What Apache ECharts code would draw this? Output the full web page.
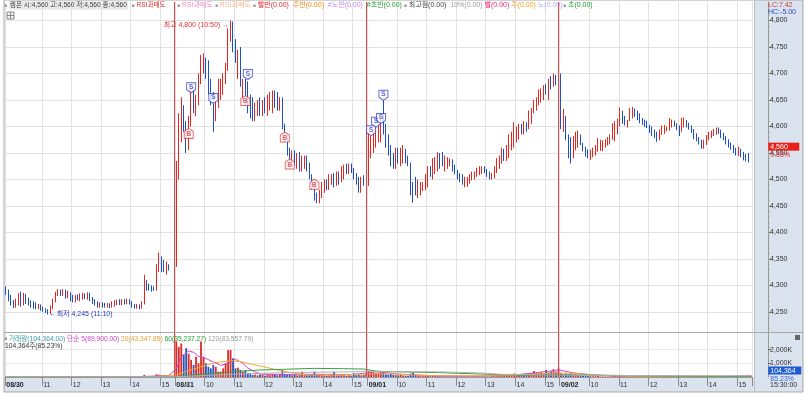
<!DOCTYPE html>
<html><head><meta charset="utf-8">
<script src="https://cdn.jsdelivr.net/npm/echarts@6/dist/echarts.min.js"></script>
<style>html,body{margin:0;padding:0;background:#fff}#c{width:807px;height:396px}</style>
</head><body><div id="c"></div>
<script>
// ---------- categories ----------
const days = ['08/30', '08/31', '09/01', '09/02'];
const firstSlot = [9, 0, 0, 0]; // first visible 5-min slot of each day (slot 0 = 09:00)
// ---------- price ticks ----------
const priceTicks = [4250, 4300, 4350, 4400, 4450, 4500, 4550, 4600, 4650, 4700, 4750, 4800];
const volTicks = [1000, 2000];
// ---------- candles [open, close, low, high] ----------
const day1 = [
[4295,4285,4282,4298],[4290,4273,4270,4292],[4280,4265,4262,4282],[4270,4260,4257,4272],[4260,4272,4258,4275],
[4265,4282,4262,4285],[4286,4265,4260,4288],[4265,4283,4262,4286],[4282,4268,4265,4284],[4275,4265,4262,4277],
[4270,4262,4258,4272],[4268,4260,4256,4270],[4265,4258,4255,4268],[4257,4262,4255,4265],[4262,4255,4252,4264],
[4258,4252,4250,4260],[4255,4250,4248,4257],[4252,4248,4245,4255],[4248,4260,4246,4262],[4258,4272,4255,4275],
[4270,4285,4268,4288],[4282,4290,4280,4293],[4290,4283,4280,4292],[4282,4290,4280,4293],[4290,4278,4275,4292],
[4278,4286,4276,4290],[4285,4272,4270,4287],[4280,4270,4268,4282],[4270,4280,4268,4282],[4280,4275,4272,4283],
[4272,4282,4270,4285],[4275,4283,4273,4286],[4283,4277,4274,4285],[4275,4284,4273,4287],[4284,4273,4270,4286],
[4275,4268,4265,4278],[4272,4265,4262,4274],[4268,4262,4258,4270],[4260,4266,4258,4268],[4266,4260,4258,4268],
[4265,4261,4258,4267],[4260,4265,4258,4267],[4265,4259,4257,4266],[4260,4268,4258,4270],[4262,4270,4260,4272],
[4265,4270,4263,4273],[4272,4266,4263,4274],[4265,4272,4263,4274],[4272,4267,4264,4274],[4266,4272,4264,4275],
[4272,4266,4264,4274],[4268,4260,4258,4270],[4263,4258,4256,4265],[4258,4262,4256,4265],[4262,4257,4255,4264],
[4258,4268,4256,4270],[4266,4305,4264,4320],[4305,4295,4290,4310],[4300,4292,4290,4303],[4298,4291,4288,4300],
[4296,4292,4290,4298],[4292,4335,4290,4340],[4330,4355,4325,4362],[4350,4330,4325,4355],[4345,4328,4325,4348],
[4325,4340,4320,4345],[4338,4332,4328,4340],[4330,4330,4330,4330],[4330,4330,4330,4330]
];
const day2 = [
[4340,4525,4335,4535],[4505,4590,4500,4625],[4590,4630,4570,4655],[4630,4600,4590,4640],[4600,4560,4550,4610],
[4560,4610,4555,4620],[4610,4670,4600,4680],[4665,4635,4625,4675],[4635,4655,4620,4660],[4650,4695,4640,4700],
[4690,4725,4680,4735],[4715,4730,4700,4738],[4725,4695,4690,4730],[4700,4665,4660,4725],[4670,4650,4640,4690],
[4660,4620,4590,4665],[4620,4645,4610,4650],[4640,4655,4635,4690],[4655,4675,4650,4690],[4670,4690,4660,4700],
[4690,4715,4680,4720],[4715,4775,4705,4785],[4770,4795,4760,4800],[4795,4750,4740,4798],[4760,4730,4720,4765],
[4700,4735,4690,4745],[4745,4685,4675,4750],[4660,4685,4650,4690],[4685,4650,4640,4690],[4680,4630,4625,4685],
[4640,4625,4615,4660],[4650,4615,4610,4655],[4615,4640,4610,4645],[4625,4645,4620,4650],[4645,4625,4620,4655],
[4625,4645,4620,4650],[4650,4630,4625,4655],[4630,4655,4620,4660],[4640,4660,4630,4665],[4640,4665,4625,4668],
[4665,4640,4635,4668],[4660,4635,4630,4665],[4635,4650,4630,4655],[4650,4600,4595,4655],[4600,4575,4570,4605],
[4575,4550,4545,4585],[4555,4530,4525,4560],[4530,4550,4525,4555],[4550,4530,4525,4555],[4525,4545,4520,4550],
[4545,4520,4515,4552],[4520,4540,4515,4545],[4525,4538,4520,4545],[4540,4520,4515,4545],[4530,4505,4500,4532],
[4505,4485,4480,4510],[4490,4465,4460,4495],[4470,4460,4455,4475],[4458,4475,4455,4480],[4470,4490,4465,4495],
[4480,4495,4475,4500],[4495,4485,4480,4500],[4485,4505,4480,4510],[4495,4505,4490,4510],[4510,4490,4485,4512],
[4490,4510,4488,4515],[4510,4495,4490,4515],[4500,4520,4495,4525],[4505,4525,4500,4528],[4525,4515,4510,4530],
[4515,4525,4510,4530],[4528,4515,4512,4530],[4518,4505,4500,4522],[4510,4495,4490,4512],[4500,4480,4475,4505],
[4480,4500,4475,4505],[4505,4490,4488,4508],[4490,4490,4490,4490]
];
const day3 = [
[4490,4550,4488,4590],[4550,4578,4540,4582],[4555,4584,4550,4590],[4565,4598,4560,4603],[4575,4605,4570,4612],
[4580,4612,4570,4615],[4620,4590,4585,4650],[4600,4565,4560,4605],[4580,4550,4545,4585],[4560,4530,4525,4565],
[4545,4525,4520,4550],[4525,4555,4520,4560],[4555,4535,4530,4560],[4530,4555,4525,4560],[4535,4555,4530,4565],
[4555,4535,4530,4558],[4540,4530,4525,4545],[4530,4475,4470,4532],[4490,4465,4456,4495],[4500,4475,4470,4505],
[4470,4495,4465,4500],[4475,4490,4470,4495],[4480,4490,4478,4495],[4485,4505,4480,4510],[4490,4520,4485,4525],
[4520,4510,4505,4525],[4505,4535,4500,4540],[4515,4540,4510,4542],[4520,4545,4515,4552],[4545,4525,4520,4550],
[4540,4530,4525,4552],[4520,4540,4515,4545],[4525,4538,4520,4542],[4528,4535,4525,4540],[4535,4520,4515,4538],
[4525,4512,4510,4528],[4515,4502,4500,4518],[4510,4500,4495,4512],[4505,4495,4490,4510],[4490,4500,4485,4505],
[4490,4502,4486,4505],[4495,4506,4492,4510],[4500,4510,4498,4515],[4505,4512,4500,4515],[4508,4518,4505,4522],
[4510,4520,4508,4525],[4512,4522,4510,4525],[4520,4515,4512,4525],[4518,4508,4505,4520],[4512,4503,4500,4515],
[4503,4510,4500,4512],[4505,4520,4502,4525],[4515,4535,4512,4540],[4525,4540,4520,4545],[4535,4555,4530,4560],
[4555,4540,4535,4558],[4540,4560,4535,4565],[4545,4580,4540,4585],[4560,4585,4555,4590],[4565,4590,4560,4608],
[4575,4595,4570,4600],[4580,4600,4575,4605],[4600,4590,4585,4605],[4590,4605,4585,4610],[4605,4595,4590,4608],
[4600,4625,4595,4630],[4610,4630,4605,4635],[4630,4645,4625,4650],[4635,4650,4630,4655],[4645,4665,4640,4670],
[4650,4668,4645,4672],[4655,4675,4650,4678],[4675,4665,4660,4680],[4670,4685,4650,4690],[4692,4678,4670,4695],
[4678,4695,4675,4700],[4695,4680,4678,4697],[4680,4680,4680,4680]
];
const day4 = [
[4690,4605,4595,4700],[4595,4628,4590,4633],[4618,4578,4574,4620],[4582,4545,4540,4585],[4578,4533,4530,4580],
[4545,4576,4540,4582],[4560,4583,4555,4590],[4565,4585,4560,4592],[4582,4567,4565,4585],[4567,4555,4553,4569],
[4560,4545,4543,4562],[4555,4542,4540,4557],[4540,4553,4537,4556],[4545,4558,4542,4560],[4548,4562,4545,4565],
[4554,4567,4552,4578],[4557,4570,4554,4575],[4556,4572,4553,4574],[4562,4574,4560,4576],[4566,4578,4564,4580],
[4568,4582,4566,4585],[4578,4603,4575,4606],[4575,4590,4572,4610],[4590,4610,4585,4615],[4603,4631,4600,4636],
[4628,4608,4605,4630],[4618,4604,4602,4620],[4600,4610,4598,4612],[4612,4630,4610,4635],[4618,4634,4615,4637],
[4632,4620,4618,4634],[4628,4615,4612,4630],[4622,4608,4606,4625],[4614,4605,4603,4616],[4612,4601,4599,4613],
[4610,4598,4597,4611],[4601,4590,4588,4603],[4598,4585,4582,4600],[4592,4580,4578,4594],[4588,4573,4571,4590],
[4576,4592,4574,4594],[4586,4600,4584,4602],[4588,4601,4586,4603],[4593,4599,4591,4600],[4594,4610,4592,4616],
[4600,4611,4598,4613],[4609,4602,4600,4611],[4604,4594,4593,4606],[4600,4589,4582,4602],[4592,4610,4590,4616],
[4600,4612,4598,4617],[4610,4600,4598,4612],[4605,4596,4594,4607],[4600,4590,4588,4602],[4593,4578,4576,4595],
[4585,4574,4572,4587],[4578,4568,4566,4580],[4573,4562,4558,4575],[4560,4573,4558,4575],[4567,4582,4565,4584],
[4576,4588,4574,4590],[4580,4590,4578,4592],[4584,4593,4582,4595],[4586,4596,4584,4598],[4596,4588,4586,4598],
[4592,4580,4578,4594],[4586,4576,4574,4588],[4580,4568,4566,4582],[4574,4562,4560,4576],[4568,4558,4556,4570],
[4562,4552,4550,4565],[4558,4548,4545,4560],[4546,4558,4544,4562],[4556,4545,4542,4558],[4550,4540,4536,4552],
[4545,4538,4534,4548],[4548,4535,4532,4550],[4560,4560,4560,4560]
];
// ---------- volume (thousand shares) ----------
const vol1 = [30,25,20,22,18,25,30,20,18,15, 15,12,14,10,12,15,18,25,35,40, 30,20,15,18,12,15,12,10,14,12,
15,12,10,12,10,8,10,12,8,10, 8,10,8,12,10,8,10,8,10,12, 8,10,8,10,12,40,150,80,50,45, 30,200,170,110,90,140,50,30,60];
const vol2 = [2600,2200,2450,1600,2100,1700,1250,880,1480,1000, 2600,1480,1000,750,630,880,750,390,390,630,
1000,1970,1970,1360,630,680,510,390,510,270, 270,150,180,120,200,150,100,180,130,200,
150,120,160,510,200,150,180,130,150,120, 140,390,150,120,160,180,390,200,150,140,
120,100,130,150,390,120,110,140,130,100, 120,100,270,130,150,120,140,300];
const vol3 = [450,400,330,270,300,390,420,200,180,220, 150,130,120,150,110,100,90,250,315,150,
120,80,60,70,90,60,80,70,90,60, 50,60,50,40,50,45,50,40,60,40, 35,40,45,35,40,50,40,35,45,40,
50,80,120,100,150,120,130,200,180,260, 150,140,150,180,150,220,260,440,300,270, 350,300,510,340,400,560,390,630];
const vol4 = [280,200,250,220,260,180,200,150,120,100, 90,80,60,50,60,70,50,40,45,40,
50,80,60,70,90,60,50,40,60,50, 40,35,40,30,35,30,40,35,30,40, 35,30,25,30,40,30,25,30,35,40,
30,35,30,40,35,30,25,30,35,30, 25,30,25,30,35,30,40,35,45,40, 50,45,60,50,70,60,80,104.364];
// ---------- volume moving averages [slot index, thousand shares] ----------
const ma5 = [[0,25],[30,20],[55,25],[60,70],[66,120],[69,600],[71,1500],[74,1900],[76,1800],[78,1500],[81,1350],[84,1100],[87,850],[90,1000],[93,1300],[96,1000],[98,650],[101,350],[104,200],[110,180],[120,200],[130,190],[140,180],[147,300],[150,380],[153,350],[158,220],[165,160],[175,80],[190,60],[205,120],[214,300],[220,420],[224,520],[226,450],[230,300],[238,150],[250,60],[270,40],[290,50],[302,90]];
const ma20 = [[0,25],[60,30],[69,150],[73,400],[79,750],[85,1050],[91,1190],[95,1120],[100,920],[106,680],[112,440],[117,270],[121,150],[135,150],[147,220],[155,230],[165,150],[175,90],[200,80],[210,150],[222,300],[230,280],[240,120],[255,50],[280,40],[302,43]];
const ma60 = [[0,25],[69,30],[79,190],[92,390],[103,510],[112,560],[125,630],[135,610],[145,580],[150,430],[155,390],[175,320],[190,230],[210,130],[225,160],[250,110],[275,60],[302,35]];
const ma120 = [[0,20],[69,25],[92,200],[115,330],[147,390],[175,380],[192,300],[200,200],[215,150],[240,120],[270,95],[302,84]];
// ---------- trade signals [slot index, price] ----------
const sellSignals = [[75,4673],[84,4653],[98,4698],[148,4592],[150,4608],[152,4615],[153,4659]];
const buySignals = [[74,4587],[97,4649],[113,4580],[115,4529],[125,4491]];

// ---------- build ----------
const candles = day1.concat(day2, day3, day4);
const volumes = vol1.concat(vol2, vol3, vol4);
const categories = [], major = [], isDayStart = [], dayLastIdx = [];
days.forEach((d, di) => {
  for (let k = firstSlot[di]; k < 78; k++) {
    const mins = k < 77 ? 9 * 60 + 5 * k : 15 * 60 + 30;
    const hh = Math.floor(mins / 60), mm = mins % 60;
    const start = k === firstSlot[di];
    categories.push(d + ' ' + String(hh).padStart(2, '0') + ':' + String(mm).padStart(2, '0'));
    isDayStart.push(start);
    major.push(start || (mm === 0 && k - firstSlot[di] >= 6));
  }
  dayLastIdx.push(categories.length - 1);
});
const UP = '#e3261f', DOWN = '#1d4fc4';
function isUp(i) {
  const c = candles[i];
  if (c[1] !== c[0]) return c[1] > c[0];
  return i > 0 ? c[1] >= candles[i - 1][1] : true;
}
const fmt = v => String(v).replace(/\B(?=(\d{3})+(?!\d))/g, ',');
const minorTicks = [];
for (let v = 4220; v <= 4830; v += 10) minorTicks.push(v);

const FONT = '"Liberation Sans","Noto Sans CJK KR",sans-serif';
const T = (x, y, text, fill, size) => ({type: 'text', x, y, z: 30, silent: true,
  style: {text, fill, font: (size || 7) + 'px ' + FONT, verticalAlign: 'middle'}});
const R = (x, y, text, fs) => ({type: 'text', x, y, z: 30, silent: true,
  style: {text, fill: '#444', font: fs + 'px ' + FONT, verticalAlign: 'middle', rich: makeRich(fs)}});
function makeRich(fs) {
  const rs = (fill, extra) => Object.assign({fill, fontSize: fs, fontFamily: FONT}, extra || {});
  return {
    q: rs('#9a9a9a', {fontSize: 5}), k: rs('#444'), kb: rs('#444', {backgroundColor: '#e9e9e9', padding: [1, 1]}),
    r: rs('#e02a2a'), p: rs('#f08cc8'), o: rs('#f4b48a'), or: rs('#f08a10'), v: rs('#c08af0'),
    g: rs('#24a030'), gr: rs('#9a9a9a'), m: rs('#f0207a'), y: rs('#f0a020'), v2: rs('#b8a8f0'),
    t: rs('#3d9da8'), mg: rs('#d443c8'), oo: rs('#e8a030')
  };
}
const intervalFn = (i) => major[i];

const PANEL = '#dae3ee';
const option = {
  animation: false,
  backgroundColor: '#fff',
  textStyle: {fontFamily: FONT},
  grid: [
    {left: 5, width: 747, top: 2, height: 330},
    {left: 5, width: 747, top: 333, height: 44}
  ],
  xAxis: [
    {type: 'category', gridIndex: 0, data: categories, boundaryGap: true,
      axisLine: {show: false}, axisTick: {show: false}, axisLabel: {show: false},
      splitLine: {show: true, interval: intervalFn, lineStyle: {color: '#e2e2e2', width: 1}}},
    {type: 'category', gridIndex: 1, data: categories, boundaryGap: true,
      axisLine: {show: true, lineStyle: {color: '#9a9a9a'}},
      axisTick: {show: true, interval: intervalFn, length: 9, lineStyle: {color: '#8a8a8a'}},
      axisLabel: {show: true, interval: intervalFn, align: 'left', margin: 5, fontSize: 7, color: '#333',
        formatter: (v, i) => {
          if (isDayStart[i]) return '{d|' + v.slice(0, 5) + '}';
          return '{h|' + String(parseInt(v.slice(6, 8), 10)) + '}';
        },
        rich: {d: {fontWeight: 'bold', color: '#222', fontSize: 7, fontFamily: FONT},
               h: {color: '#333', fontSize: 7, fontFamily: FONT}}},
      splitLine: {show: true, interval: intervalFn, lineStyle: {color: '#e2e2e2', width: 1}}}
  ],
  yAxis: [
    {type: 'value', gridIndex: 0, position: 'right', offset: 16, min: 4212, max: 4835,
      axisLine: {show: true, lineStyle: {color: '#9a9a9a'}},
      axisTick: {show: true, customValues: priceTicks, length: 3, lineStyle: {color: '#666'}},
      axisLabel: {show: true, customValues: priceTicks, margin: 2, fontSize: 7, color: '#333', formatter: v => fmt(v)},
      splitLine: {show: true, lineStyle: {color: '#e2e2e2', width: 1}}},
    {type: 'value', gridIndex: 0, position: 'right', offset: 16, min: 4212, max: 4835,
      axisLine: {show: false},
      axisTick: {show: true, customValues: minorTicks, length: 1.5, lineStyle: {color: '#999'}},
      axisLabel: {show: false}, splitLine: {show: false}},
    {type: 'value', gridIndex: 1, position: 'right', offset: 16, min: 0, max: 3212,
      axisLine: {show: true, lineStyle: {color: '#9a9a9a'}},
      axisTick: {show: true, customValues: volTicks, length: 3, lineStyle: {color: '#666'}},
      axisLabel: {show: true, customValues: volTicks, margin: 2, fontSize: 7, color: '#333', formatter: v => fmt(v) + 'K'},
      splitLine: {show: true, lineStyle: {color: '#e8e8e8', width: 1}}}
  ],
  series: [
    {type: 'candlestick', xAxisIndex: 0, yAxisIndex: 0, data: candles, barWidth: 1, z: 3,
      itemStyle: {color: UP, color0: DOWN, borderColor: UP, borderColor0: DOWN, borderColorDoji: null, borderWidth: 1},
      markLine: {silent: true, symbol: 'none', animation: false, label: {show: false},
        lineStyle: {color: '#d84a4a', width: 1, type: 'solid'},
        data: [{xAxis: dayLastIdx[0]}, {xAxis: dayLastIdx[1]}, {xAxis: dayLastIdx[2]}]},
      markPoint: {silent: true, animation: false, symbol: 'circle', symbolSize: 1, itemStyle: {color: 'rgba(0,0,0,0)'},
        data: [
          {coord: [91, 4792], label: {show: true, position: 'left', distance: 1, formatter: '최고 4,800 (10:50) →', color: '#e03030', fontSize: 7}},
          {coord: [17, 4246], label: {show: true, position: 'right', distance: 1, formatter: '←최저 4,245 (11:10)', color: '#2535c0', fontSize: 7}},
          {coord: [candles.length - 1, 4560], label: {show: true, position: 'right', distance: 17, offset: [0, 3],
            formatter: '{a|4,560}\n{b|0.55%}',
            rich: {a: {backgroundColor: '#e8201c', color: '#fff', fontSize: 7, width: 27, padding: [1, 2, 0, 2], lineHeight: 8},
                   b: {color: '#e03030', fontSize: 7, lineHeight: 8, padding: [0, 2]}}}}
        ]}},
    {type: 'scatter', xAxisIndex: 0, yAxisIndex: 0, data: sellSignals, z: 6,
      symbol: 'path://M0,0H10V7L5,10L0,7Z', symbolSize: [9, 10],
      itemStyle: {color: '#fff', borderColor: '#3a44c8', borderWidth: 1},
      label: {show: true, position: 'inside', formatter: 'S', color: '#3a44c8', fontSize: 7, fontWeight: 'bold', offset: [0, -1]}},
    {type: 'scatter', xAxisIndex: 0, yAxisIndex: 0, data: buySignals, z: 6,
      symbol: 'path://M5,0L10,3V10H0V3Z', symbolSize: [9, 10],
      itemStyle: {color: '#fff', borderColor: '#e04040', borderWidth: 1},
      label: {show: true, position: 'inside', formatter: 'B', color: '#e04040', fontSize: 7, fontWeight: 'bold', offset: [0, 1]}},
    {type: 'bar', xAxisIndex: 1, yAxisIndex: 2, data: volumes, barWidth: 1.8, z: 3,
      itemStyle: {color: p => isUp(p.dataIndex) ? '#dc2a26' : '#2452c2'},
      markLine: {silent: true, symbol: 'none', animation: false, label: {show: false},
        lineStyle: {color: '#d84a4a', width: 1, type: 'solid'},
        data: [{xAxis: dayLastIdx[0]}, {xAxis: dayLastIdx[1]}, {xAxis: dayLastIdx[2]}]},
      markPoint: {silent: true, animation: false, symbol: 'circle', symbolSize: 1, itemStyle: {color: 'rgba(0,0,0,0)'},
        data: [{coord: [candles.length - 1, 104.364], label: {show: true, position: 'right', distance: 17, offset: [0, -1],
          formatter: '{a|104,364}\n{b|85.23%}',
          rich: {a: {backgroundColor: '#1f5bd0', color: '#fff', fontSize: 7, width: 29, padding: [1, 2, 0, 2], lineHeight: 8},
                 b: {color: '#3a66d8', fontSize: 7, lineHeight: 8, padding: [0, 2]}}}}]}},
    {type: 'line', xAxisIndex: 1, yAxisIndex: 2, data: ma5, symbol: 'none', z: 4, lineStyle: {color: '#d443c8', width: 1}},
    {type: 'line', xAxisIndex: 1, yAxisIndex: 2, data: ma20, symbol: 'none', z: 4, lineStyle: {color: '#f0a838', width: 1}},
    {type: 'line', xAxisIndex: 1, yAxisIndex: 2, data: ma60, symbol: 'none', z: 4, lineStyle: {color: '#3aa040', width: 1}},
    {type: 'line', xAxisIndex: 1, yAxisIndex: 2, data: ma120, symbol: 'none', z: 4, lineStyle: {color: '#b0b0b0', width: 1}}
  ],
  graphic: [
    {type: 'rect', z: -5, silent: true, shape: {x: 754, y: 0, width: 49, height: 392}, style: {fill: PANEL}},
    {type: 'rect', z: -5, silent: true, shape: {x: 4, y: 378, width: 799, height: 14}, style: {fill: PANEL}},
    {type: 'rect', z: 25, silent: true, shape: {x: 4, y: 0, width: 799, height: 392}, style: {fill: 'none', stroke: '#a8a8a8', lineWidth: 1}},
    {type: 'line', z: 25, silent: true, shape: {x1: 4, y1: 332.5, x2: 803, y2: 332.5}, style: {stroke: '#a8a8a8', lineWidth: 1}},
    {type: 'line', z: 25, silent: true, shape: {x1: 754.5, y1: 0, x2: 754.5, y2: 392}, style: {stroke: '#b8c2ce', lineWidth: 1}},
    // top legend
    R(4, 5.5, '{q|■} {kb|켐온 시:4,560 고:4,560 저:4,560 종:4,560}  {q|■} {r|RSI과매도}', 6.6),
    R(177, 5.5, '{q|■} {p|RSI과매도} {q|■} {o|RSI과매도} {q|■} {r|빨반(0.00)}  {or|주반(0.00)}  {v|#노반(0.00)}  {g|#초반(0.00)} {q|■} {k|최고점(0.00)}  {gr|10%(0.00)} {m|빨(0.00)} {y|주(0.00)} {v2|노(0.00)}', 7),
    R(563, 5.5, '{q|■} {g|초(0.00)}', 7),
    {type: 'rect', z: 28, silent: true, shape: {x: 7, y: 12, width: 7, height: 7}, style: {fill: '#f4f4f4', stroke: '#888', lineWidth: 1}},
    {type: 'line', z: 29, silent: true, shape: {x1: 7, y1: 15.5, x2: 14, y2: 15.5}, style: {stroke: '#888', lineWidth: 1}},
    {type: 'line', z: 29, silent: true, shape: {x1: 10.5, y1: 12, x2: 10.5, y2: 19}, style: {stroke: '#888', lineWidth: 1}},
    // right panel texts
    T(768, 5, 'LC:7.42', '#d03838'), T(768, 12, 'HC:-5.00', '#2848c8'),
    T(770, 385, '15:30:00', '#333'),
    {type: 'rect', z: 28, silent: true, shape: {x: 795, y: 335, width: 5, height: 5}, style: {fill: '#666'}},
    // volume legend
    R(4, 339, '{q|■} {t|거래량(104,364.00)} {mg|단순 5(89,900.00)} {oo|20(43,347.85)} {g|60(35,237.27)} {gr|120(83,557.79)}', 6.7),
    T(5, 346, '104,364주(85.23%)', '#333', 6.7)
  ]
};
const chart = echarts.init(document.getElementById('c'));
chart.setOption(option);
</script></body></html>
